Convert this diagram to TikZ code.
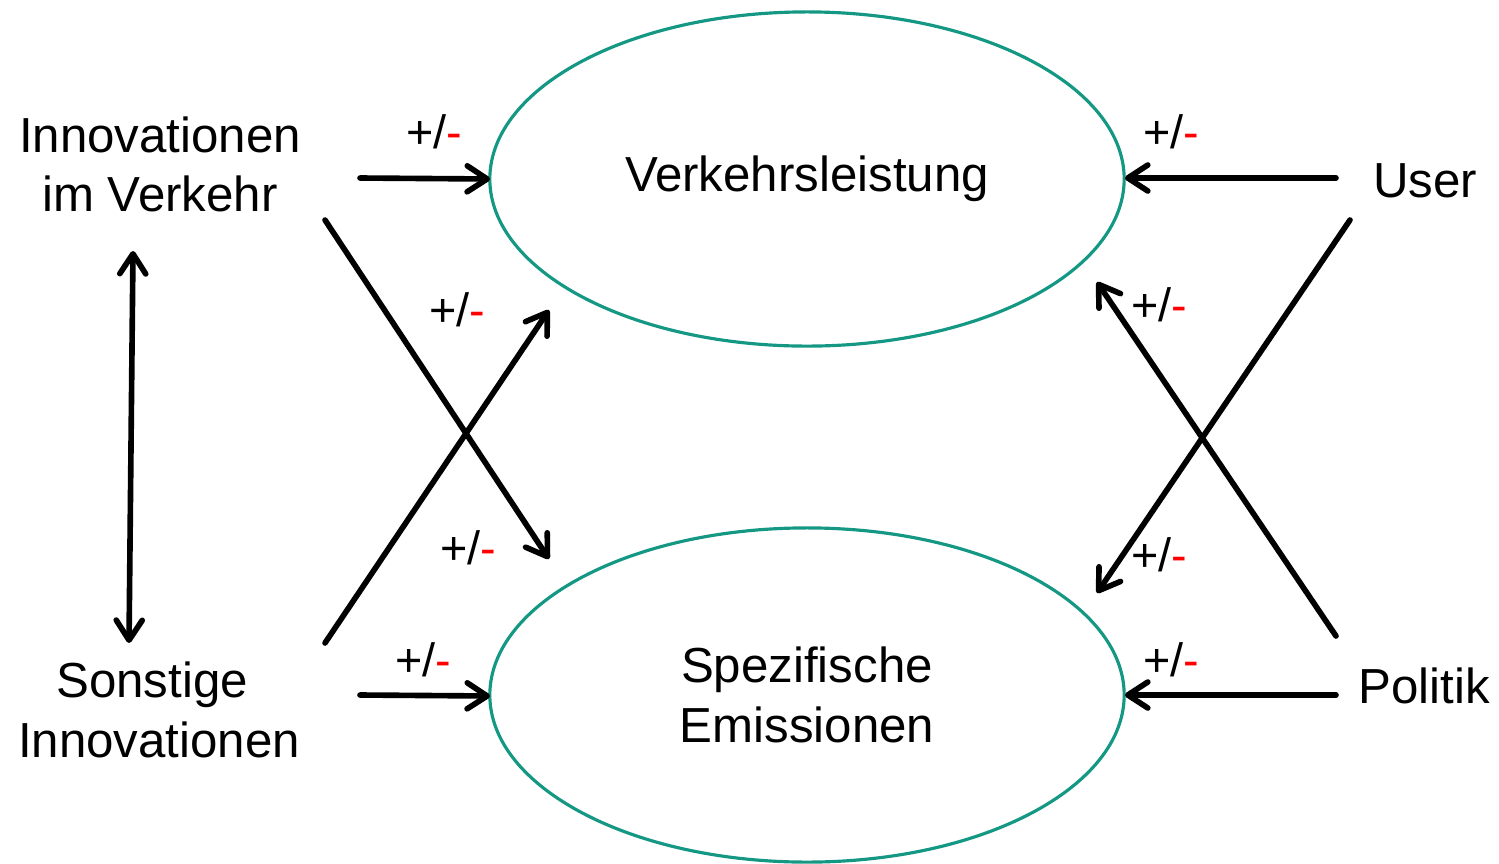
\documentclass[tikz,border=0pt]{standalone}
\usepackage{fontspec}
\setmainfont{Liberation Sans}
\usetikzlibrary{shapes.geometric,arrows.meta}
\definecolor{ellcol}{RGB}{20,152,132}
\definecolor{minusred}{RGB}{255,0,0}
\begin{document}
\begin{tikzpicture}[x=0.01cm,y=-0.01cm,
  ell/.style={draw=ellcol,line width=0.9pt,ellipse,minimum width=6.34cm,minimum height=3.34cm,inner sep=0pt,font=\fontsize{14}{17}\selectfont,align=center},
  lbl/.style={inner sep=0pt,font=\fontsize{14}{17}\selectfont,align=center},
  pm/.style={inner sep=0pt,font=\fontsize{13.3}{15}\selectfont},
  arr/.style={line width=1.6pt,line cap=round,-{Straight Barb[length=2mm,width=2.6mm,round]}},
  darr/.style={line width=1.6pt,{Straight Barb[length=2mm,width=2.6mm,round]}-{Straight Barb[length=2mm,width=2.6mm,round]}}]
\useasboundingbox (0,0) rectangle (1499,863);

% ellipses
\node[ell] (vl) at (807,179) {Verkehrsleistung};
\node[ell] (se) at (807,695) {Spezifische\\Emissionen};

% side labels
\node[lbl] (inno) at (160,164.5) {Innovationen\\im Verkehr};
\node[lbl] (sonst) at (159,709.5) {Sonstige\kern0.278em\\Innovationen};
\node[lbl,anchor=base] (user) at (1425,197) {User};
\node[lbl,anchor=base] (pol) at (1424,703) {Politik};

% arrow endpoints
\coordinate (a1s) at (360,178);  \coordinate (a1e) at (490,179);
\coordinate (a2s) at (1336,178); \coordinate (a2e) at (1125,178);
\coordinate (a3s) at (325,220);  \coordinate (a3e) at (549,559);
\coordinate (a4s) at (325,643);  \coordinate (a4e) at (549,310);
\coordinate (a5s) at (360,695);  \coordinate (a5e) at (490,696);
\coordinate (a6s) at (1336,695); \coordinate (a6e) at (1125,695);
\coordinate (a7s) at (1350,220); \coordinate (a7e) at (1097,593);
\coordinate (a8s) at (1336,636); \coordinate (a8e) at (1097,282);
\coordinate (dvt) at (133,251);  \coordinate (dvb) at (129,643);

\draw[arr] (a1s) -- (a1e);
\draw[arr] (a2s) -- (a2e);
\draw[arr] (a3s) -- (a3e);
\draw[arr] (a4s) -- (a4e);
\draw[arr] (a5s) -- (a5e);
\draw[arr] (a6s) -- (a6e);
\draw[arr] (a7s) -- (a7e);
\draw[arr] (a8s) -- (a8e);
\draw[darr] (dvt) -- (dvb);

% +/- labels
\node[pm] (p1) at (434,132) {+/\textcolor{minusred}{-}};
\node[pm] (p2) at (1171,132) {+/\textcolor{minusred}{-}};
\node[pm] (p3) at (457,310) {+/\textcolor{minusred}{-}};
\node[pm] (p4) at (468,548) {+/\textcolor{minusred}{-}};
\node[pm] (p5) at (1159,305) {+/\textcolor{minusred}{-}};
\node[pm] (p6) at (1159,555) {+/\textcolor{minusred}{-}};
\node[pm] (p7) at (423,660) {+/\textcolor{minusred}{-}};
\node[pm] (p8) at (1171,660) {+/\textcolor{minusred}{-}};
\end{tikzpicture}
\end{document}
